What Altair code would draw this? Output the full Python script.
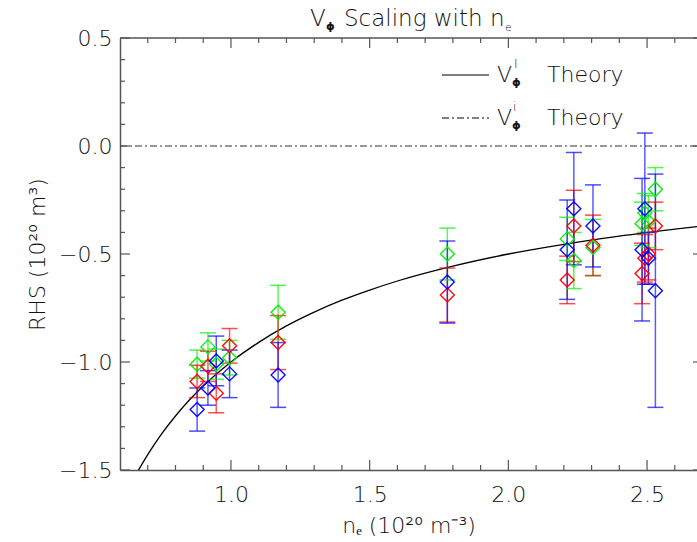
import altair as alt
import pandas as pd

# Electron density of each discharge (10^20 m^-3)
ne = [0.878, 0.917, 0.947, 0.995, 1.17, 1.78, 2.212, 2.236, 2.305, 2.482, 2.492, 2.505, 2.53]

# RHS values and error half-widths for the three channels
green_rhs = [-1.01, -0.93, -1.01, -0.98, -0.77, -0.50, -0.43, -0.53, -0.47, -0.36, -0.31, -0.35, -0.20]
green_err = [0.065, 0.065, 0.07, 0.08, 0.125, 0.12, 0.10, 0.13, 0.13, 0.10, 0.09, 0.12, 0.10]
red_rhs = [-1.09, -1.02, -1.145, -0.925, -0.91, -0.69, -0.62, -0.37, -0.46, -0.59, -0.52, -0.50, -0.37]
red_err = [0.075, 0.07, 0.09, 0.08, 0.125, 0.125, 0.11, 0.165, 0.14, 0.14, 0.11, 0.12, 0.11]
blue_rhs = [-1.22, -1.12, -0.995, -1.055, -1.06, -0.63, -0.48, -0.29, -0.37, -0.48, -0.29, -0.52, -0.67]
blue_err = [0.10, 0.08, 0.115, 0.11, 0.15, 0.19, 0.23, 0.26, 0.19, 0.33, 0.35, 0.12, 0.54]

# V_phi^I theory curve
theory_ne = [0.65, 0.70, 0.75, 0.80, 0.85, 0.90, 1.00, 1.10, 1.20, 1.30, 1.40, 1.50, 1.60,
             1.80, 2.00, 2.20, 2.40, 2.60, 2.68]
theory_rhs = [-1.538, -1.429, -1.333, -1.250, -1.176, -1.111, -1.000, -0.909, -0.833, -0.769,
              -0.714, -0.667, -0.625, -0.556, -0.500, -0.455, -0.417, -0.385, -0.373]

# V_phi^i theory level
theory_i_rhs = [0.0]

# Axis ticks
x_major = [1.0, 1.5, 2.0, 2.5]
x_minor = [0.7, 0.8, 0.9, 1.1, 1.2, 1.3, 1.4, 1.6, 1.7, 1.8, 1.9, 2.1, 2.2, 2.3, 2.4, 2.6]
y_major = [-1.5, -1.0, -0.5, 0.0, 0.5]
y_minor = [-1.4, -1.3, -1.2, -1.1, -0.9, -0.8, -0.7, -0.6, -0.4, -0.3, -0.2, -0.1,
           0.1, 0.2, 0.3, 0.4]

rows = []
for name, vals, errs in [("green", green_rhs, green_err),
                         ("red", red_rhs, red_err),
                         ("blue", blue_rhs, blue_err)]:
    for x, y, e in zip(ne, vals, errs):
        rows.append({"ne": x, "rhs": y, "lo": y - e, "hi": y + e, "channel": name})
points = pd.DataFrame(rows)
theory = pd.DataFrame({"ne": theory_ne, "rhs": theory_rhs})

W, H = 577, 432
FONT = "DejaVu Sans"
WEIGHT = 200
INK = "#111111"
AXIS = "#555555"

xsc = alt.Scale(domain=[0.6, 2.68], nice=False, zero=False)
ysc = alt.Scale(domain=[-1.5, 0.5], nice=False, zero=False)
csc = alt.Scale(domain=["green", "red", "blue"], range=["#00f000", "#ff0000", "#0000ff"])

xaxis = alt.Axis(values=x_major, format=".1f", ticks=False, grid=False,
                 domainColor=AXIS, domainWidth=1.5, labelFontSize=22, labelPadding=14,
                 labelColor=INK, labelFontWeight=WEIGHT, title="nₑ (10²⁰  m⁻³)",
                 titleFontSize=22, titleFontWeight=WEIGHT, titleColor=INK, titleY=62,
                 titleBaseline="alphabetic")
yaxis = alt.Axis(values=y_major, format=".1f", ticks=False, grid=False,
                 domainColor=AXIS, domainWidth=1.5, labelFontSize=22, labelPadding=8,
                 labelColor=INK, labelFontWeight=WEIGHT, title="RHS (10²⁰ m³)",
                 titleFontSize=22, titleFontWeight=WEIGHT, titleColor=INK, titleX=-76,
                 titleBaseline="alphabetic")


def X(field):
    return alt.X(field, type="quantitative", scale=xsc, axis=xaxis)


def Y(field):
    return alt.Y(field, type="quantitative", scale=ysc, axis=yaxis)


col = alt.Color("channel:N", scale=csc, legend=None)

bars = alt.Chart(points).mark_rule(strokeWidth=1.5, opacity=0.65).encode(
    x=X("ne"), y=Y("lo"), y2="hi", color=col)
caps_lo = alt.Chart(points).mark_tick(orient="horizontal", size=16, thickness=1.5,
                                      opacity=0.7).encode(x=X("ne"), y=Y("lo"), color=col)
caps_hi = alt.Chart(points).mark_tick(orient="horizontal", size=16, thickness=1.5,
                                      opacity=0.7).encode(x=X("ne"), y=Y("hi"), color=col)
diamonds = alt.Chart(points).mark_point(shape="diamond", filled=False, size=196,
                                        strokeWidth=1.4, opacity=0.95).encode(
    x=X("ne"), y=Y("rhs"), color=col)

curve = alt.Chart(theory).mark_line(color="black", strokeWidth=1.3, clip=True,
                                    interpolate="monotone").encode(x=X("ne"), y=Y("rhs"))
level = alt.Chart(pd.DataFrame({"rhs": theory_i_rhs})).mark_rule(
    color="#333333", strokeWidth=1.1, strokeDash=[7, 3, 2, 3]).encode(
    y=Y("rhs"), x=alt.value(0), x2=alt.value(W))

# Inward ticks on all sides of the frame
xmaj = pd.DataFrame({"v": x_major})
xmin = pd.DataFrame({"v": x_minor})
ymaj = pd.DataFrame({"v": y_major})
ymin = pd.DataFrame({"v": y_minor})
tk = dict(color=AXIS, strokeWidth=1.2)
ticks = [
    alt.Chart(xmaj).mark_rule(**tk).encode(x=X("v"), y=alt.value(H), y2=alt.value(H - 10)),
    alt.Chart(xmin).mark_rule(**tk).encode(x=X("v"), y=alt.value(H), y2=alt.value(H - 5)),
    alt.Chart(xmaj).mark_rule(**tk).encode(x=X("v"), y=alt.value(0), y2=alt.value(10)),
    alt.Chart(xmin).mark_rule(**tk).encode(x=X("v"), y=alt.value(0), y2=alt.value(5)),
    alt.Chart(ymaj).mark_rule(**tk).encode(y=Y("v"), x=alt.value(0), x2=alt.value(10)),
    alt.Chart(ymin).mark_rule(**tk).encode(y=Y("v"), x=alt.value(0), x2=alt.value(5)),
    alt.Chart(ymaj).mark_rule(**tk).encode(y=Y("v"), x=alt.value(W - 4), x2=alt.value(W)),
]
top_edge = alt.Chart(alt.Data(values=[{}])).mark_rule(color=AXIS, strokeWidth=1.5).encode(
    x=alt.value(0), x2=alt.value(W), y=alt.value(0))


def label(text, x, y, size=22, weight=WEIGHT):
    return alt.Chart(alt.Data(values=[{}])).mark_text(
        text=text, align="left", baseline="alphabetic", fontSize=size, font=FONT,
        fontWeight=weight, color=INK).encode(x=alt.value(x), y=alt.value(y))


# Legend block
legend = [
    alt.Chart(alt.Data(values=[{}])).mark_rule(color="black", strokeWidth=1.2).encode(
        x=alt.value(322), x2=alt.value(369), y=alt.value(37)),
    alt.Chart(alt.Data(values=[{}])).mark_rule(color="black", strokeWidth=1.1,
                                               strokeDash=[7, 3, 2, 3]).encode(
        x=alt.value(322), x2=alt.value(369), y=alt.value(80)),
    label("V", 377, 44), label("ϕ", 392, 48, size=11, weight="bold"),
    label("I", 394, 30, size=12), label("Theory", 427, 44),
    label("V", 377, 87), label("ϕ", 392, 91, size=11, weight="bold"),
    label("i", 393, 73, size=12), label("Theory", 427, 87),
]

# Title pieces
title = [
    label("V", 190, -12, size=23), label("ϕ", 206, -8, size=11, weight="bold"),
    label("Scaling with n", 224, -12, size=23), label("e", 385, -7, size=11),
]

chart = alt.layer(
    level, curve, *ticks, top_edge, bars, caps_lo, caps_hi, diamonds, *legend, *title
).properties(
    width=W, height=H,
    padding={"left": 120, "top": 38, "right": 0, "bottom": 72},
    autosize=alt.AutoSizeParams(type="none"),
).configure_view(stroke=None).configure_axis(
    labelFont=FONT, titleFont=FONT
)

chart.save("out.html", embed_options={"renderer": "svg", "actions": False})
